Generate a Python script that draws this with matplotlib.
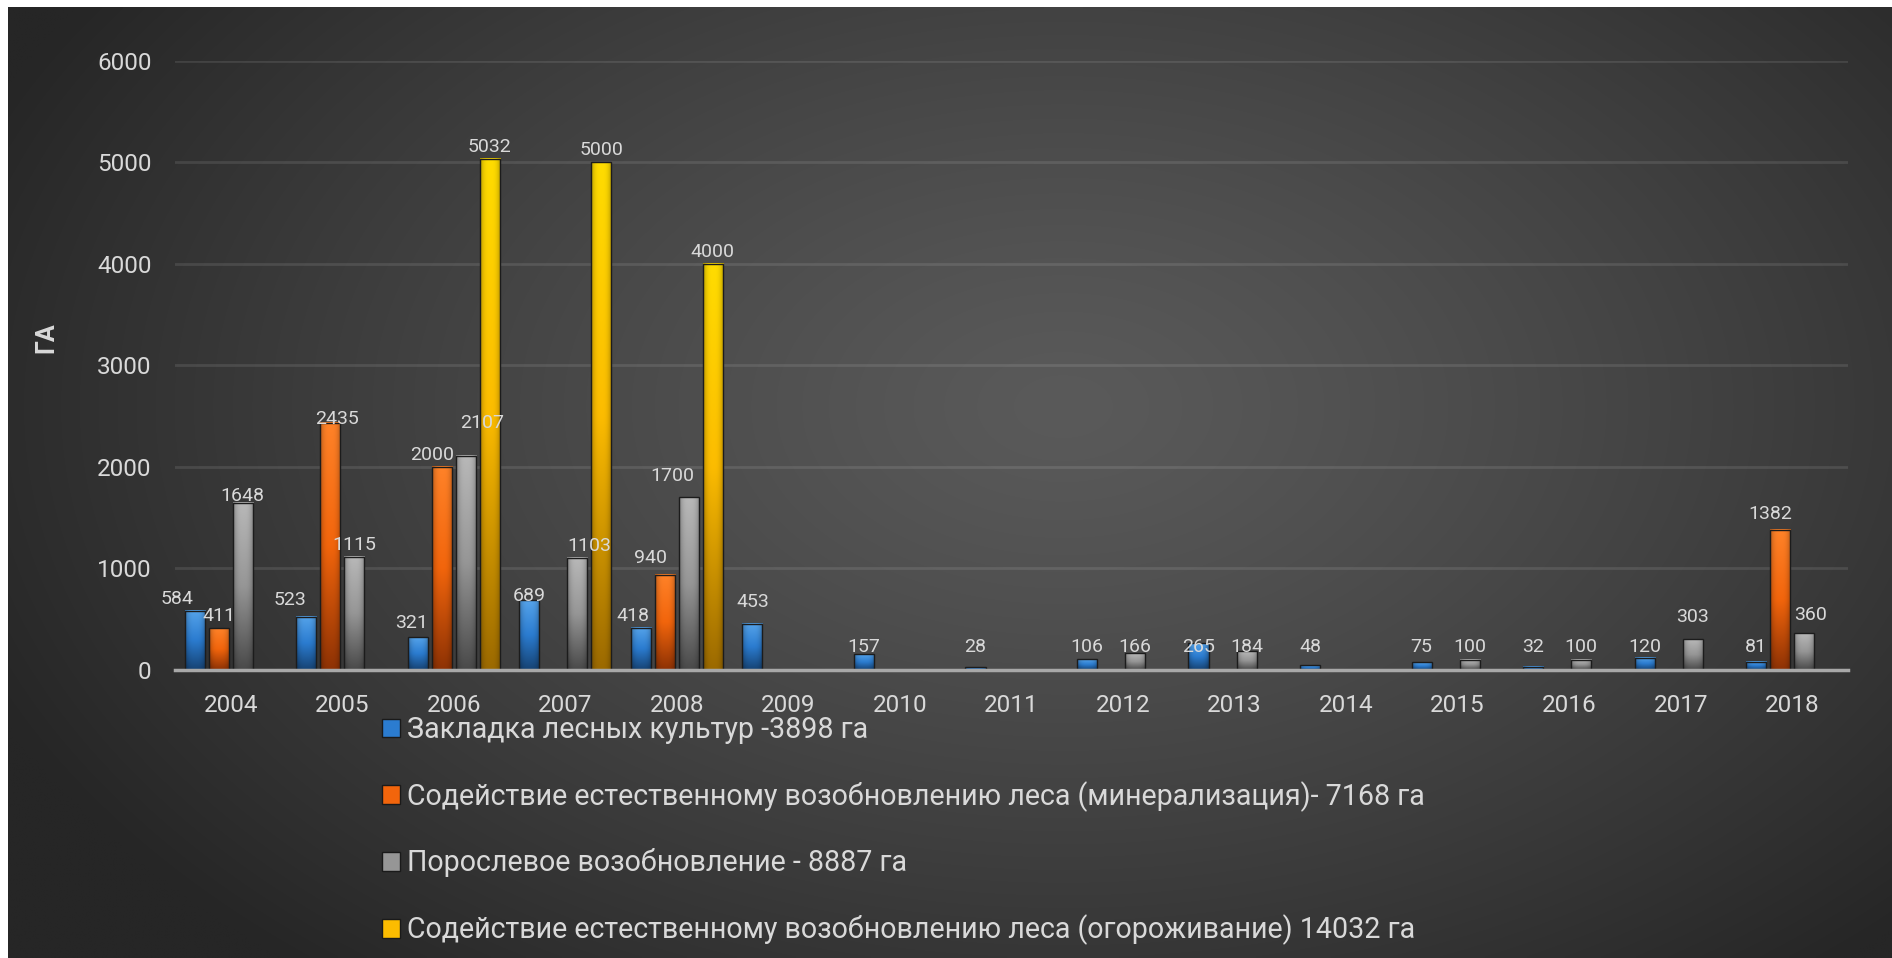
import numpy as np
import matplotlib
matplotlib.use("Agg")
import matplotlib.pyplot as plt
from matplotlib.colors import to_rgb
from matplotlib.patches import Patch

# ---------------- data ----------------
years = ["2004", "2005", "2006", "2007", "2008", "2009", "2010", "2011",
         "2012", "2013", "2014", "2015", "2016", "2017", "2018"]
nan = np.nan
zakladka = [584, 523, 321, 689, 418, 453, 157, 28, 106, 265, 48, 75, 32, 120, 81]
mineralizatsiya = [411, 2435, 2000, nan, 940, nan, nan, nan, nan, nan, nan, nan, nan, nan, 1382]
poroslevoe = [1648, 1115, 2107, 1103, 1700, nan, nan, nan, 166, 184, nan, 100, 100, 303, 360]
ogorozhivanie = [nan, nan, 5032, 5000, 4000, nan, nan, nan, nan, nan, nan, nan, nan, nan, nan]
series_labels = [
    "Закладка лесных культур -3898 га",
    "Содействие естественному возобновлению леса (минерализация)- 7168 га",
    "Порослевое возобновление - 8887 га",
    "Содействие естественному возобновлению леса (огороживание) 14032 га",
]
y_ticks = [0, 1000, 2000, 3000, 4000, 5000, 6000]
y_label = "ГА"

# ---------------- style ----------------
plt.rcParams["font.family"] = ["Roboto", "DejaVu Sans"]
W, H = 1892, 958
TXT = "#d9d9d9"
PT = 0.72  # points per pixel at dpi 100
# (top, mid, bottom) colors per series
palettes = [
    ("#55a3ea", "#2b7cd0", "#164374"),
    ("#ff8228", "#f2650c", "#8e3204"),
    ("#b8b8b8", "#969696", "#4a4a4a"),
    ("#ffdc00", "#fcbc00", "#9c6a00"),
]
# label placement tweaks in pixels: (series index, year) -> (dx, dy)
label_shift = {
    (0, "2004"): (-18, 0), (0, "2005"): (-16, 5), (0, "2006"): (-6, 2),
    (0, "2007"): (0, -8), (0, "2008"): (-8, 0), (0, "2009"): (0, 10),
    (1, "2005"): (7, -8), (1, "2006"): (-10, 0), (1, "2008"): (-14, 5),
    (1, "2018"): (-10, 4),
    (2, "2004"): (0, -5), (2, "2006"): (16, 21), (2, "2007"): (12, 0),
    (2, "2008"): (-17, 9), (2, "2017"): (0, 10), (2, "2018"): (6, 6),
}
label_gap_px = 12        # label centre above bar top
small_value = 290        # small bars: labels on a common baseline
small_label_px = 23.5    # label centre above the axis for small bars

fig = plt.figure(figsize=(W / 100, H / 100), dpi=100, facecolor="white")

# background panel with radial gradient
bg = fig.add_axes([8 / W, 0, 1 - 8 / W, 1 - 7 / H], zorder=-10)
gy, gx = np.mgrid[0:1:300j, 0:1:600j]
d = np.sqrt(((gx - 0.56) / 0.62) ** 2 + ((gy - 0.42) / 0.78) ** 2)
t = np.clip(d, 0, 1) ** 1.25
c0 = np.array(to_rgb("#5a5a5a"))
c1 = np.array(to_rgb("#262626"))
img = c0[None, None, :] * (1 - t[..., None]) + c1[None, None, :] * t[..., None]
bg.imshow(img, aspect="auto", extent=(0, 1, 0, 1), origin="upper", interpolation="bilinear")
bg.set_axis_off()

# main axes
ax_left, ax_right = 175, 1848
ax_top, ax_bottom = 60.5, 670
ax = fig.add_axes([ax_left / W, 1 - ax_bottom / H, (ax_right - ax_left) / W,
                   (ax_bottom - ax_top) / H])
ax.patch.set_alpha(0)

n = len(years)
xs = np.arange(n)
slot = 0.2154
bw = 0.18
all_series = [zakladka, mineralizatsiya, poroslevoe, ogorozhivanie]


def bar_image(top, mid, bottom, ny=80, nx=20):
    top, mid, bottom = (np.array(to_rgb(c)) for c in (top, mid, bottom))
    v = np.linspace(0, 1, ny)[:, None, None]  # 0 bottom -> 1 top
    col = np.where(v > 0.5, mid + (top - mid) * (v - 0.5) * 2,
                   bottom + (mid - bottom) * v * 2)
    u = np.linspace(-1, 1, nx)[None, :, None]
    shade = 1 - 0.28 * np.abs(u) ** 3
    return np.clip(col * shade, 0, 1)


for i, vals in enumerate(all_series):
    vals = np.array(vals, dtype=float)
    mask = np.isfinite(vals)
    xpos = xs + (i - 1.5) * slot
    top, mid, bottom = palettes[i]
    bars = ax.bar(xpos[mask], vals[mask], bw, facecolor="none",
                  edgecolor="#1c1c1c", linewidth=1.0, zorder=4)
    im = bar_image(top, mid, bottom)
    for rect in bars:
        x0 = rect.get_x()
        h = rect.get_height()
        ax.imshow(im, extent=(x0, x0 + rect.get_width(), 0, h), origin="lower",
                  aspect="auto", interpolation="bilinear", zorder=3)
    for k in np.where(mask)[0]:
        v = vals[k]
        dx, dy = label_shift.get((i, years[k]), (0, 0))
        if v < small_value:
            anchor_y, off = 0, small_label_px
        else:
            anchor_y, off = v, label_gap_px
        ax.annotate(f"{int(v)}", (xpos[k], anchor_y),
                    xytext=(dx * PT, (off + dy) * PT), textcoords="offset points",
                    ha="center", va="center", fontsize=14, color=TXT, zorder=5)

ax.set_xlim(-0.5, n - 0.5)
ax.set_ylim(0, 6000)
ax.set_aspect("auto")
ax.set_yticks(y_ticks)
ax.set_yticklabels([str(v) for v in y_ticks])
ax.set_xticks(xs)
ax.set_xticklabels(years)
ax.tick_params(axis="both", length=0, labelsize=17.5, colors=TXT)
ax.tick_params(axis="y", pad=17)
ax.tick_params(axis="x", pad=17)
ax.yaxis.grid(True, color="white", alpha=0.1, linewidth=2)
ax.set_axisbelow(True)
for s in ["top", "right", "left"]:
    ax.spines[s].set_visible(False)
ax.spines["bottom"].set_color("#a8a8a8")
ax.spines["bottom"].set_linewidth(2.5)
ax.spines["bottom"].set_zorder(6)

fig.text(46 / W, 1 - 338 / H, y_label, rotation=90, ha="center", va="center",
         fontsize=18, fontweight="bold", color=TXT)

handles = [Patch(facecolor=p[1], edgecolor="#1a1a1a", linewidth=1) for p in palettes]
leg = fig.legend(handles, series_labels, loc="upper left",
                 bbox_to_anchor=(382 / W, 1 - 716 / H), frameon=False,
                 fontsize=20.6, labelcolor=TXT, handlelength=0.63, handleheight=0.63,
                 handletextpad=0.25, labelspacing=1.29, borderpad=0, borderaxespad=0)

fig.savefig("out.png", dpi=100, facecolor=fig.get_facecolor())
